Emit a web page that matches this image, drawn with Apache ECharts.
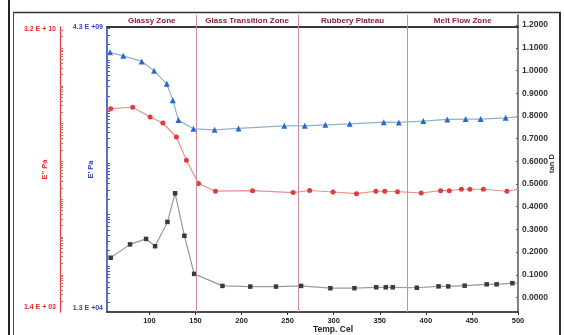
<!DOCTYPE html>
<html>
<head>
<meta charset="utf-8">
<script src="https://cdn.jsdelivr.net/npm/echarts@6/dist/echarts.min.js"></script>
<style>
html,body{margin:0;padding:0;background:#fff;}
#chart{width:564px;height:335px;}
</style>
</head>
<body>
<div id="chart"></div>
<script>
// ---- data ----
const tempEp = [57.3, 71.7, 91.7, 105.1, 118.9, 125.4, 131.5, 147.8, 170.7, 196.7, 246.4, 268.6, 291.0, 317.4, 354.3, 370.7, 397.2, 423.3, 443.2, 459.5, 486.6, 500];
const ePrime = [1.39e9, 1.19e9, 9.29e8, 6.11e8, 3.42e8, 1.65e8, 6.77e7, 4.59e7, 4.39e7, 4.68e7, 5.25e7, 5.25e7, 5.49e7, 5.74e7, 6.19e7, 6.11e7, 6.48e7, 6.98e7, 7.08e7, 7.08e7, 7.50e7, 7.85e7];

const tempEpp = [58.0, 81.9, 100.8, 114.6, 129.3, 140.2, 153.3, 171.7, 212.0, 255.9, 273.9, 299.3, 324.7, 345.7, 355.4, 369.2, 395.0, 416.0, 425.4, 438.5, 447.8, 462.4, 488.0, 500];
const eDoublePrime = [2.48e8, 2.71e8, 1.50e8, 1.04e8, 4.43e7, 1.07e7, 2.61e6, 1.63e6, 1.68e6, 1.50e6, 1.70e6, 1.55e6, 1.40e6, 1.62e6, 1.62e6, 1.58e6, 1.46e6, 1.68e6, 1.68e6, 1.83e6, 1.83e6, 1.83e6, 1.62e6, 1.83e6];

const tempTan = [58.0, 79.0, 96.4, 106.2, 119.6, 127.9, 138.0, 148.6, 179.3, 209.5, 237.4, 264.6, 296.4, 322.5, 346.1, 356.5, 364.1, 390.2, 413.8, 424.3, 442.1, 466.0, 476.8, 493.9, 500];
const tanD = [0.175, 0.234, 0.258, 0.226, 0.333, 0.459, 0.272, 0.104, 0.051, 0.048, 0.048, 0.051, 0.041, 0.041, 0.045, 0.045, 0.045, 0.043, 0.049, 0.049, 0.052, 0.058, 0.058, 0.063, 0.063];

const xTicks = [100, 150, 200, 250, 300, 350, 400, 450, 500];
const tanTicks = [0, 0.1, 0.2, 0.3, 0.4, 0.5, 0.6, 0.7, 0.8, 0.9, 1.0, 1.1, 1.2];
const tanTickLabels = ['0.0000','0.1000','0.2000','0.3000','0.4000','0.5000','0.6000','0.7000','0.8000','0.9000','1.0000','1.1000','1.2000'];
const ePrimeLabelValues = [1.3e4, 4.3e9];
const ePrimeLabels = ['1.3 E +04', '4.3 E +09'];
const eDoubleLabelValues = [1.4e3, 3.2e10];
const eDoubleLabels = ['1.4 E + 03', '3.2 E + 10'];

const zoneNames = ['Glassy Zone', 'Glass Transition Zone', 'Rubbery Plateau', 'Melt Flow Zone'];
const zoneStart = [54, 151, 261, 380];
const zoneEnd = [151, 261, 380, 500];
const zoneLines = [151, 261, 380];

// ---- helpers ----
const FONT = 'Liberation Sans';
function logTicks(lo, hi) {
  const out = [];
  for (let n = Math.floor(Math.log10(lo)); n <= Math.ceil(Math.log10(hi)); n++) {
    for (let k = 1; k <= 9; k++) {
      const v = k * Math.pow(10, n);
      if (v >= lo && v <= hi) out.push(v);
    }
  }
  return out;
}
function pairs(xs, ys) { return xs.map((x, i) => [x, ys[i]]); }
function pickLabel(vals, labels, v) {
  let best = 0, bd = Infinity;
  vals.forEach((t, i) => { const d = Math.abs(Math.log10(t) - Math.log10(v)); if (d < bd) { bd = d; best = i; } });
  return labels[best];
}
function endHidden(shape, n) {
  return function (val, params) { return params.dataIndex === n - 1 ? 'none' : shape; };
}

const blueMin = 12990, blueMax = 4.31e9;
const redMin = 1033, redMax = 3.61e10;

const chart = echarts.init(document.getElementById('chart'), null, {renderer: 'canvas'});
chart.setOption({
  animation: false,
  backgroundColor: '#fff',
  grid: [
    {left: 107, right: 46, top: 27, bottom: 23, outerBoundsMode: 'none', containLabel: false},
    {left: 107, right: 46, top: 15, bottom: 23, outerBoundsMode: 'none', containLabel: false}
  ],
  xAxis: [
    {
      type: 'value', gridIndex: 0, min: 54, max: 500, position: 'bottom',
      axisLine: {show: true, lineStyle: {color: '#111', width: 1.5}},
      axisTick: {show: true, length: 3, customValues: xTicks, lineStyle: {color: '#333'}},
      axisLabel: {customValues: xTicks, margin: 5, color: '#222', fontFamily: FONT, fontWeight: 'bold', fontSize: 7.5},
      splitLine: {show: false},
      name: 'Temp. Cel', nameLocation: 'middle', nameGap: 13, nameMoveOverlap: false,
      nameTextStyle: {color: '#222', fontFamily: FONT, fontWeight: 'bold', fontSize: 8.5, padding: [0, 0, 0, 41]}
    },
    {type: 'value', gridIndex: 1, min: 54, max: 500, show: false},
    {
      type: 'value', gridIndex: 0, min: 54, max: 500, position: 'top',
      axisLine: {show: true, lineStyle: {color: '#3a3a3a', width: 2}},
      axisTick: {show: false}, axisLabel: {show: false}, splitLine: {show: false}
    }
  ],
  yAxis: [
    {
      type: 'log', logBase: 10, gridIndex: 0, position: 'left', min: blueMin, max: blueMax,
      axisLine: {show: true, lineStyle: {color: '#2a3cc4', width: 1.5}},
      axisTick: {show: true, inside: true, length: 3, customValues: logTicks(blueMin, blueMax), lineStyle: {color: '#4a5ad0', width: 1}},
      minorTick: {show: false},
      axisLabel: {
        customValues: ePrimeLabelValues, margin: 4, color: '#3444c0', fontFamily: FONT, fontWeight: 'bold', fontSize: 7,
        verticalAlignMinLabel: 'bottom',
        formatter: v => pickLabel(ePrimeLabelValues, ePrimeLabels, v)
      },
      splitLine: {show: false},
      name: "E' Pa", nameLocation: 'middle', nameGap: 12, nameMoveOverlap: false,
      nameTextStyle: {color: '#2a3cc4', fontFamily: FONT, fontWeight: 'bold', fontSize: 7.5}
    },
    {
      type: 'log', logBase: 10, gridIndex: 0, position: 'left', offset: 47, min: redMin, max: redMax,
      axisLine: {show: true, lineStyle: {color: '#e03c3c', width: 1.3}},
      axisTick: {show: true, inside: true, length: 3, customValues: logTicks(redMin, redMax), lineStyle: {color: '#e06060', width: 1}},
      minorTick: {show: false},
      axisLabel: {
        customValues: eDoubleLabelValues, margin: 4, color: '#e02c2c', fontFamily: FONT, fontWeight: 'bold', fontSize: 7,
        formatter: v => pickLabel(eDoubleLabelValues, eDoubleLabels, v)
      },
      splitLine: {show: false},
      name: "E'' Pa", nameLocation: 'middle', nameGap: 11, nameMoveOverlap: false,
      nameTextStyle: {color: '#e02c2c', fontFamily: FONT, fontWeight: 'bold', fontSize: 7.5}
    },
    {
      type: 'value', gridIndex: 1, position: 'right', min: -0.0639, max: 1.2445,
      axisLine: {show: true, lineStyle: {color: '#55556e', width: 1.5}},
      axisTick: {show: true, inside: true, length: 2, customValues: tanTicks, lineStyle: {color: '#55556e'}},
      axisLabel: {
        customValues: tanTicks, margin: 4, color: '#333', fontFamily: FONT, fontWeight: 'bold', fontSize: 8.5,
        formatter: v => tanTickLabels[tanTicks.findIndex(t => Math.abs(t - v) < 1e-6)]
      },
      splitLine: {show: false},
      name: 'tan D', nameLocation: 'middle', nameGap: 30, nameMoveOverlap: false,
      nameTextStyle: {color: '#333', fontFamily: FONT, fontWeight: 'bold', fontSize: 7.5}
    }
  ],
  series: [
    {
      name: 'tan D', type: 'line', xAxisIndex: 1, yAxisIndex: 2,
      data: pairs(tempTan, tanD),
      symbol: endHidden('rect', tempTan.length), symbolSize: 4.5,
      lineStyle: {color: '#9a9a9a', width: 1.2},
      itemStyle: {color: '#3a3a3a'},
      silent: true, z: 3,
      markLine: {
        silent: true, symbol: ['none', 'none'], label: {show: false},
        lineStyle: {color: '#c98e98', width: 1, type: 'solid'},
        emphasis: {disabled: true},
        data: zoneLines.map(v => ({xAxis: v}))
      },
      markArea: {
        silent: true,
        itemStyle: {color: 'rgba(0,0,0,0)'},
        label: {show: true, position: 'inside', color: '#8b1e30', fontFamily: FONT, fontWeight: 'bold', fontSize: 8},
        data: zoneNames.map((nm, i) => [
          {name: nm, xAxis: zoneStart[i], yAxis: 1.1916},
          {xAxis: zoneEnd[i], yAxis: 1.2445}
        ])
      }
    },
    {
      name: "E'' Pa", type: 'line', xAxisIndex: 0, yAxisIndex: 1,
      data: pairs(tempEpp, eDoublePrime),
      symbol: endHidden('circle', tempEpp.length), symbolSize: 5,
      lineStyle: {color: '#e89090', width: 1.2},
      itemStyle: {color: '#e03c3c'},
      silent: true, z: 4
    },
    {
      name: "E' Pa", type: 'line', xAxisIndex: 0, yAxisIndex: 0,
      data: pairs(tempEp, ePrime),
      symbol: endHidden('triangle', tempEp.length), symbolSize: 6,
      lineStyle: {color: '#8fb2cf', width: 1.2},
      itemStyle: {color: '#2a6ac8'},
      silent: true, z: 5
    }
  ],
  graphic: [
    {type: 'line', silent: true, shape: {x1: 9, y1: 0, x2: 9, y2: 335}, style: {stroke: '#222', lineWidth: 2}},
    {type: 'line', silent: true, shape: {x1: 13.5, y1: 12, x2: 13.5, y2: 335}, style: {stroke: '#444', lineWidth: 1}},
    {type: 'line', silent: true, shape: {x1: 13, y1: 12.5, x2: 561, y2: 12.5}, style: {stroke: '#333', lineWidth: 1.5}},
    {type: 'line', silent: true, shape: {x1: 560, y1: 12, x2: 560, y2: 335}, style: {stroke: '#333', lineWidth: 2}}
  ]
});
</script>
</body>
</html>
